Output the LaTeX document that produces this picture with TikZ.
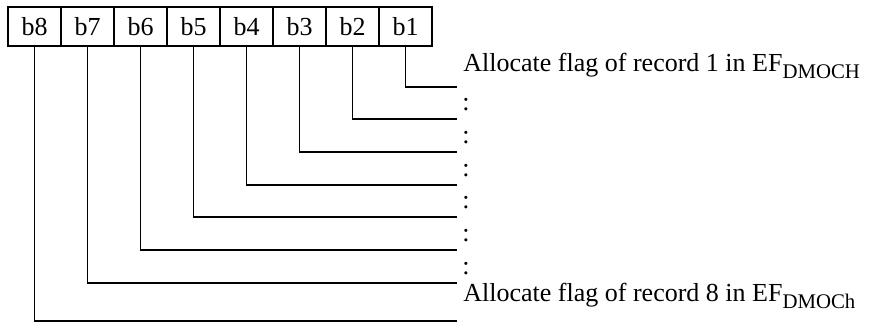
\documentclass[tikz,border=0pt]{standalone}
\usepackage{fontspec}
\setmainfont{Liberation Serif}
\usetikzlibrary{positioning}
\newcommand{\subtxt}[1]{\raisebox{-3.5pt}{\fontsize{10.4}{12}\selectfont #1}}

\begin{document}
\begin{tikzpicture}[x=0.5pt, y=-0.5pt,
  bitbox/.style={draw, rectangle, minimum width=26.5pt, minimum height=19.2pt, inner sep=0pt, line width=0.9pt, font=\fontsize{13}{15}\selectfont},
  lead/.style={line width=0.9pt},
  lbl/.style={anchor=base west, inner sep=0pt, font=\fontsize{13}{15}\selectfont}
]
\useasboundingbox (0,0) rectangle (872,325);

% bit cells
\foreach \k [count=\i from 0] in {8,...,1} {
  \node[bitbox] (b\k) at (34.5+53*\i, 26.5) {b\k};
}

% leader lines
\foreach \k/\y in {1/87,2/119,3/152,4/185,5/217,6/250,7/283,8/321} {
  \coordinate (e\k) at (457,\y);
  \draw[lead] (b\k.south) |- (e\k);
}

\node[lbl] (rec1) at (463,72) {Allocate flag of record 1 in EF\subtxt{DMOCH}};
\foreach \k/\y in {2/111,3/144,4/177,5/209,6/242,7/275} {
  \node[lbl] (dots\k) at (462,\y) {:};
}
\node[lbl] (rec8) at (463,302) {Allocate flag of record 8 in EF\subtxt{DMOCh}};
\end{tikzpicture}
\end{document}
